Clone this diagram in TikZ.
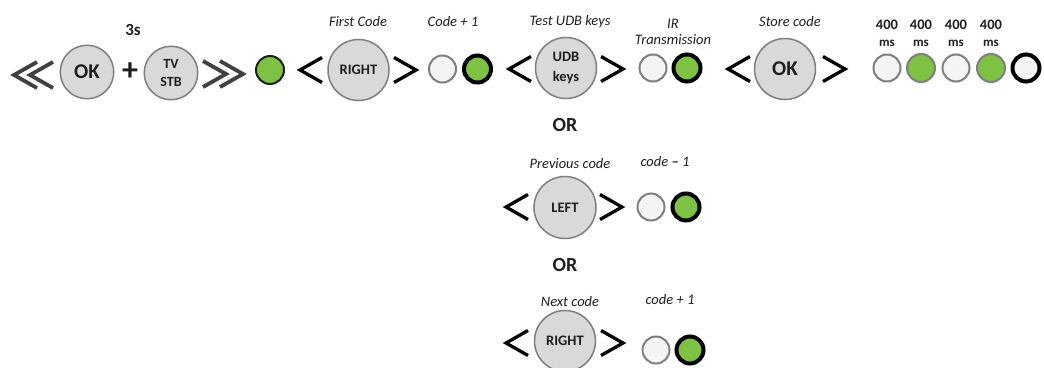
\documentclass[tikz,border=0pt]{standalone}
\usepackage{fontspec}
\setmainfont{Carlito}
\definecolor{btnfill}{HTML}{D9D9D9}
\definecolor{btnline}{HTML}{7F7F7F}
\definecolor{ledgreen}{HTML}{7DC242}
\definecolor{ledwhite}{HTML}{F4F4F4}
\definecolor{txt}{HTML}{1F1F1F}
\definecolor{dchev}{HTML}{404040}
\tikzset{
  btn/.style={circle, draw=btnline, line width=1.5pt, fill=btnfill, minimum size=#1, inner sep=0pt,
    font=\bfseries\fontsize{14.5}{15}\selectfont, text=txt, align=center},
  ledw/.style={circle, draw=btnline, line width=2pt, fill=ledwhite, minimum size=27pt, inner sep=0pt},
  ledg/.style={circle, draw=txt, line width=2pt, fill=ledgreen, minimum size=28pt, inner sep=0pt},
  ledgg/.style={ledg, draw=btnline},
  ledgb/.style={ledg, line width=4pt, draw=black, minimum size=27pt},
  ledwb/.style={ledw, line width=4pt, draw=black},
  lbl/.style={font=\itshape\fontsize{14.5}{16}\selectfont, text=txt, align=center},
  bld/.style={font=\bfseries\fontsize{#1}{#1}\selectfont, text=txt, align=center},
  chev/.style={line width=3.3pt, black, line join=miter},
  dch/.style={line width=3.8pt, dchev, line join=miter},
  ltp/.pic={\draw[chev] (11,-12.5) -- (-11,0) -- (11,12.5);},
  gtp/.pic={\draw[chev] (-11,-12.5) -- (11,0) -- (-11,12.5);},
  dltp/.pic={\draw[dch] (4,-13) -- (-19,0) -- (4,13); \draw[dch] (20,-13) -- (-3,0) -- (20,13);},
  dgtp/.pic={\draw[dch] (-21,-13) -- (2,0) -- (-21,13); \draw[dch] (-4,-13) -- (19,0) -- (-4,13);},
}
\begin{document}
\begin{tikzpicture}[x=1pt,y=-1pt]
\useasboundingbox (0,0) rectangle (1044,367);
\fill[white] (0,0) rectangle (1044,367);
% row 1
\pic at (33,75) {dltp};
\node[btn=53.5pt, font=\bfseries\fontsize{21}{21}\selectfont] (ok1) at (87,72) {OK};
\node[bld=32] (plus) at (130,72) {+};
\node[btn=53.5pt, font=\bfseries\fontsize{14}{18}\selectfont] (tvstb) at (171,73) {TV\\STB};
\pic at (224,74) {dgtp};
\node[bld=17] (t3s) at (133,30) {3s};
\node[ledg] (g0) at (270,70) {};

\pic at (311,70) {ltp};
\node[btn=61pt] (right1) at (358.5,70) {RIGHT};
\pic at (405,70) {gtp};
\node[lbl] (l1) at (358,22) {First Code};
\node[ledw] (w1) at (442.5,69) {};
\node[ledgb] (g1) at (477.5,69) {};
\node[lbl] (l2) at (453,22) {Code + 1};

\pic at (520,69) {ltp};
\node[btn=61pt, font=\bfseries\fontsize{14.5}{20}\selectfont] (udb) at (566,68) {UDB\\keys};
\pic at (612,69) {gtp};
\node[lbl] (l3) at (570,22) {Test UDB keys};
\node[ledw] (w2) at (653,68) {};
\node[ledgb] (g2) at (687,68) {};
\node[lbl] (l4) at (673,32) {IR\\Transmission};

\pic at (739,69) {ltp};
\node[btn=61pt, font=\bfseries\fontsize{21}{21}\selectfont] (ok2) at (785,69) {OK};
\pic at (834,69) {gtp};
\node[lbl] (l5) at (790,22) {Store code};
\node[ledw] (s1) at (887,68) {};
\node[ledgg] (s2) at (921,68) {};
\node[ledw] (s3) at (956,68) {};
\node[ledgg] (s4) at (991,68) {};
\node[ledwb] (s5) at (1026,68) {};
\foreach \i/\x in {1/887,2/921,3/956,4/991}{
  \node[bld=14.5] (n\i) at (\x,25) {400};
  \node[bld=13] (m\i) at (\x,43) {ms};
}
% row 2
\node[bld=20] (or1) at (565,125) {OR};
\pic at (517,207) {ltp};
\node[btn=62pt] (left) at (565,207.5) {LEFT};
\pic at (611,207) {gtp};
\node[lbl] (l6) at (570,164) {Previous code};
\node[lbl] (l7) at (665,162) {code \textbf{--} 1};
\node[ledw] (w3) at (651,207) {};
\node[ledgb] (g3) at (686,207) {};
% row 3
\node[bld=20] (or2) at (565,265) {OR};
\pic at (517,343) {ltp};
\node[btn=61pt] (right2) at (565,341) {RIGHT};
\pic at (612,343) {gtp};
\node[lbl] (l8) at (570,302) {Next code};
\node[lbl] (l9) at (670,300) {code + 1};
\node[ledw] (w4) at (656,350) {};
\node[ledgb] (g4) at (690,350) {};
\end{tikzpicture}
\end{document}
